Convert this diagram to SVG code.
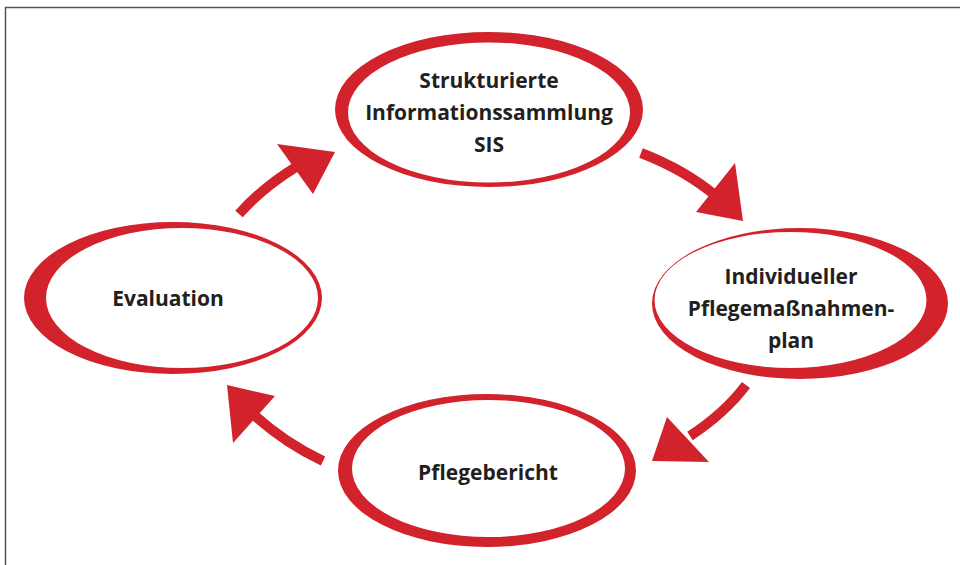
<svg xmlns="http://www.w3.org/2000/svg" width="960" height="565" viewBox="0 0 960 565">
<style>
.ring{fill:#d2222b;fill-rule:evenodd}
.lbl{font-family:"Open Sans","Liberation Sans",sans-serif;font-weight:bold;font-size:21px;fill:#231f20;text-anchor:middle}
.shaft{fill:none;stroke:#d2222b;stroke-width:10}
.head{fill:#d2222b}
</style>
<rect width="960" height="565" fill="#fff"/>
<path d="M5.5 565 V7.5 H960" fill="none" stroke="#555" stroke-width="1.5"/>
<g id="connectors">
<path class="shaft" d="M239 214 Q262 188 296 167"/>
<polygon class="head" points="277,144 335,152 313,194"/>
<path class="shaft" d="M641 153 Q685 170 716 196"/>
<polygon class="head" points="735,163 743,221 696,212"/>
<path class="shaft" d="M746 385 Q725 413 690 436"/>
<polygon class="head" points="667,417 652,461 709,462"/>
<path class="shaft" d="M323 461 Q285 443 254 415"/>
<polygon class="head" points="227,385 275,396 233,443"/>
</g>
<g id="sis">
<path class="ring" d="M335 109.5 a154 77.5 0 1 0 308 0 a154 77.5 0 1 0 -308 0 Z M348 112.5 a141 70 0 1 0 282 0 a141 70 0 1 0 -282 0 Z"/>
<text class="lbl" x="489" y="88">Strukturierte</text>
<text class="lbl" x="489" y="120">Informationssammlung</text>
<text class="lbl" x="489" y="152">SIS</text>
</g>
<g id="plan">
<path class="ring" d="M652 303.5 a148 75.5 0 1 0 296 0 a148 75.5 0 1 0 -296 0 Z M654.5 300 a136 68 0 1 0 272 0 a136 68 0 1 0 -272 0 Z"/>
<text class="lbl" x="791" y="284">Individueller</text>
<text class="lbl" x="791" y="316">Pflegemaßnahmen-</text>
<text class="lbl" x="791" y="348">plan</text>
</g>
<g id="bericht">
<path class="ring" d="M338 470.5 a149 76.5 0 1 0 298 0 a149 76.5 0 1 0 -298 0 Z M352 468.5 a136.5 68.5 0 1 0 273 0 a136.5 68.5 0 1 0 -273 0 Z"/>
<text class="lbl" x="488" y="480">Pflegebericht</text>
</g>
<g id="evaluation">
<path class="ring" d="M24 298 a149 76 0 1 0 298 0 a149 76 0 1 0 -298 0 Z M46 298 a136 70 0 1 0 272 0 a136 70 0 1 0 -272 0 Z"/>
<text class="lbl" x="168" y="306">Evaluation</text>
</g>
</svg>
